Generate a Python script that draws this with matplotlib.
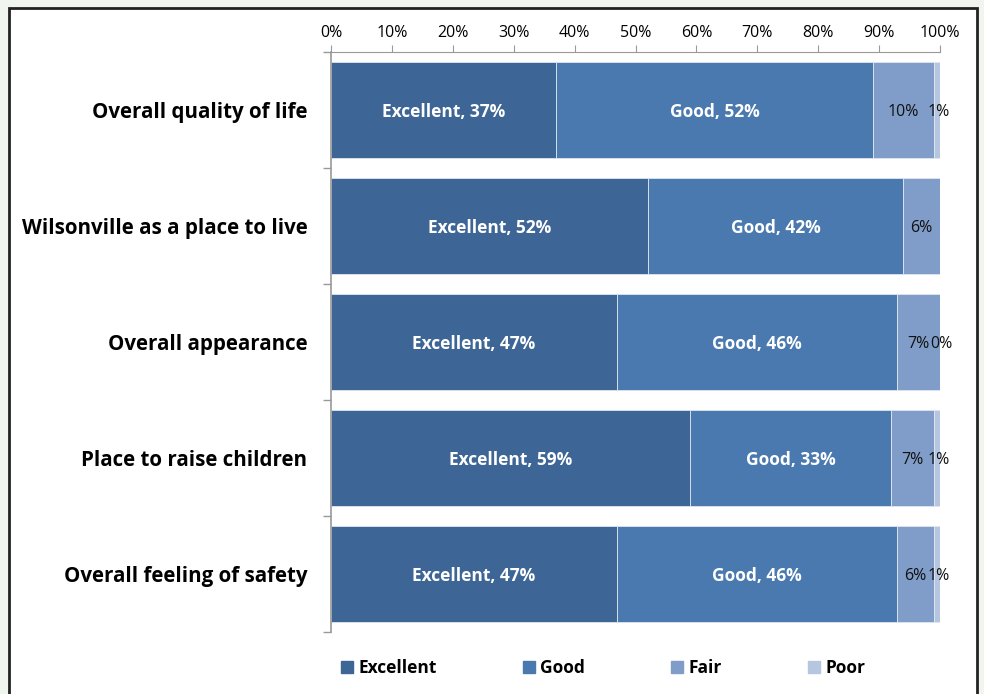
import matplotlib
matplotlib.use("Agg")
import matplotlib.pyplot as plt
from matplotlib.patches import Rectangle
from matplotlib.lines import Line2D
import numpy as np

categories = ["Overall quality of life", "Wilsonville as a place to live",
              "Overall appearance", "Place to raise children", "Overall feeling of safety"]
excellent = [37, 52, 47, 59, 47]
good = [52, 42, 46, 33, 46]
fair = [10, 6, 7, 7, 6]
poor = [1, 0, 0, 1, 1]
show_poor_label = [True, False, True, True, True]
series_names = ["Excellent", "Good", "Fair", "Poor"]
colors = ["#3d6596", "#4a79b0", "#7f9dc8", "#b6c6e1"]
xticks = [0, 10, 20, 30, 40, 50, 60, 70, 80, 90, 100]

plt.rcParams['font.family'] = ['Open Sans', 'DejaVu Sans']

fig = plt.figure(figsize=(9.84, 6.94), dpi=100)
fig.patch.set_facecolor("#f0f5ee")
W, H = 984, 694
# white panel with black border
fig.patches.append(Rectangle((9 / W, -0.05), (977 - 9) / W, 686 / H + 0.05,
                             transform=fig.transFigure, facecolor="white",
                             edgecolor="#222222", linewidth=2, zorder=-5))

ax = fig.add_axes([331 / W, 1 - 632 / H, (940 - 331) / W, (632 - 52) / H])
ax.set_facecolor("none")
ax.set_zorder(2)

y = np.arange(len(categories))
data = [excellent, good, fair, poor]
left = np.zeros(len(categories))
for i, (vals, c, name) in enumerate(zip(data, colors, series_names)):
    vals = np.array(vals, dtype=float)
    ax.barh(y, vals, left=left, height=0.83, color=c, edgecolor="#dfe6ef",
            linewidth=0.6, label=name)
    for j, v in enumerate(vals):
        if i < 2:
            ax.text(left[j] + v / 2, j + 0.02, f"{name}, {int(v)}%", ha="center", va="center",
                    color="white", fontsize=12.5, fontweight="bold")
        elif i == 2:
            ax.text(left[j] + v / 2, j + 0.02, f"{int(v)}%", ha="center", va="center",
                    color="#111111", fontsize=11.5)
        else:
            if show_poor_label[j]:
                ax.text(left[j] + v / 2 + 0.2, j + 0.02, f"{int(v)}%", ha="center", va="center",
                        color="#111111", fontsize=11.5)
    left += vals

ax.set_xlim(0, 100)
ax.set_ylim(len(categories) - 0.5, -0.5)
ax.xaxis.tick_top()
ax.set_xticks(xticks)
ax.set_xticklabels([f"{t}%" for t in xticks], fontsize=11.5)
ax.tick_params(axis="x", direction="out", length=5, color="#999999", pad=3)
ax.set_yticks(y)
ax.set_yticklabels(categories, fontsize=14.8, fontweight="bold")
ax.tick_params(axis="y", which="major", length=0, pad=17)
ax.set_yticks(np.arange(-0.5, len(categories), 1.0), minor=True)
ax.tick_params(axis="y", which="minor", length=6, color="#999999", width=1)
for s in ["right", "bottom"]:
    ax.spines[s].set_visible(False)
ax.spines["top"].set_color("#999999")
ax.spines["left"].set_color("#999999")
ax.spines["left"].set_linewidth(1.2)

handles = [Line2D([], [], marker="s", linestyle="none", markersize=8,
                  markerfacecolor=c, markeredgecolor=c) for c in colors]
leg = fig.legend(handles, series_names, loc="center left",
                 bbox_to_anchor=(323 / W, 1 - 668 / H), ncol=4, frameon=False,
                 prop={"size": 12.5, "weight": "bold"}, handletextpad=0.15,
                 columnspacing=4.8, handlelength=1.0)

fig.savefig("out.png", dpi=100, facecolor=fig.get_facecolor())
